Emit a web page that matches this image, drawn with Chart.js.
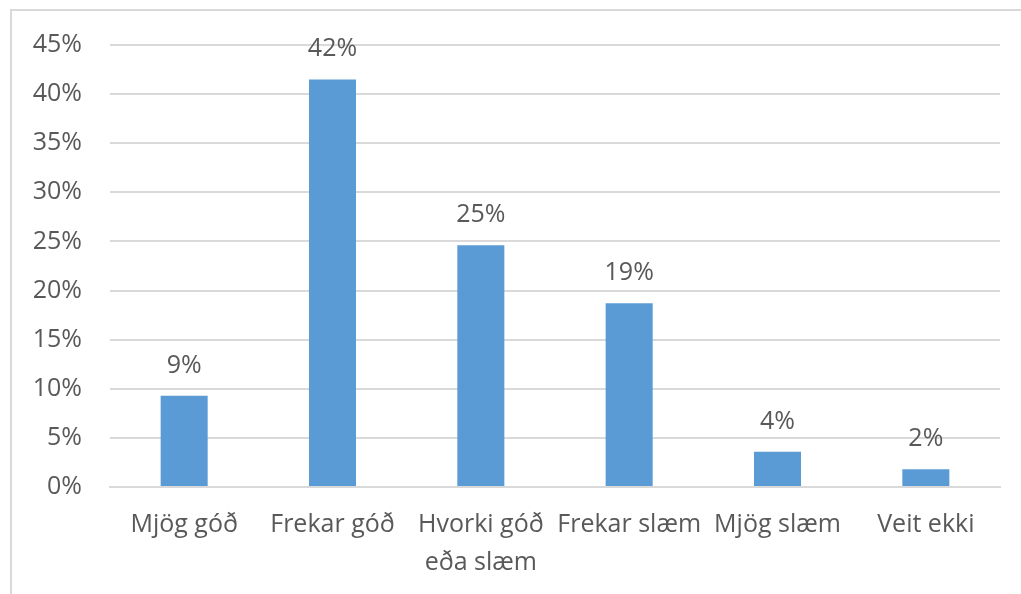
<!DOCTYPE html>
<html>
<head>
<meta charset="utf-8">
<script src="https://cdn.jsdelivr.net/npm/chart.js@4"></script>
<style>
  html, body { margin: 0; padding: 0; background: #fff; overflow: hidden; }
  #frame {
    position: absolute; left: 10px; top: 9px;
    width: 1011px; height: 585px;
    border-top: 2px solid #d9d9d9; border-left: 2px solid #d9d9d9;
  }
  #wrap { position: absolute; left: 0; top: 0; width: 1009px; height: 583px; }
</style>
</head>
<body>
<div id="frame"><div id="wrap"><canvas id="chart"></canvas></div></div>
<script>
// Categories and values (share of answers, %)
var categories = [
    'Mjög góð',
    'Frekar góð',
    ['Hvorki góð', 'eða slæm'],
    'Frekar slæm',
    'Mjög slæm',
    'Veit ekki'
];
var shares = [9.3, 41.5, 24.6, 18.7, 3.6, 1.8];
var yTicks = [0, 5, 10, 15, 20, 25, 30, 35, 40, 45];

var textColor = '#595959';
var fontFamily = "'Open Sans', sans-serif";

// Draw the value labels above the bars
var valueLabels = {
    id: 'valueLabels',
    afterDatasetsDraw: function(chart) {
        var ctx = chart.ctx;
        var meta = chart.getDatasetMeta(0);
        ctx.save();
        ctx.font = '25px ' + fontFamily;
        ctx.fillStyle = textColor;
        ctx.textAlign = 'center';
        ctx.textBaseline = 'alphabetic';
        meta.data.forEach(function(bar, i) {
            ctx.fillText(Math.round(shares[i]) + '%', bar.x, bar.y - 23);
        });
        ctx.restore();
    }
};

var ctx = document.getElementById('chart').getContext('2d');
var chart = new Chart(ctx, {
    type: 'bar',
    data: {
        labels: categories,
        datasets: [{
            data: shares,
            backgroundColor: '#5b9bd5',
            borderWidth: 0,
            barPercentage: 0.317,
            categoryPercentage: 1
        }]
    },
    options: {
        responsive: true,
        maintainAspectRatio: false,
        animation: false,
        layout: { padding: { left: 0, right: 21, top: 34, bottom: 0 } },
        plugins: {
            legend: { display: false },
            tooltip: { enabled: false }
        },
        scales: {
            x: {
                grid: { display: false, drawTicks: false },
                border: { display: true, color: '#d9d9d9', width: 2 },
                ticks: {
                    color: textColor,
                    font: { family: fontFamily, size: 25, lineHeight: 1.52 },
                    padding: 19,
                    maxRotation: 0,
                    autoSkip: false
                },
                afterFit: function(scale) {
                    scale.height = 107;
                    scale.paddingLeft = 0;
                    scale.paddingRight = 0;
                }
            },
            y: {
                min: 0,
                max: 45,
                afterBuildTicks: function(scale) {
                    scale.ticks = yTicks.map(function(v) { return { value: v }; });
                },
                grid: { color: '#d9d9d9', lineWidth: 2, drawTicks: false },
                border: { display: false },
                ticks: {
                    color: textColor,
                    font: { family: fontFamily, size: 25 },
                    padding: 28,
                    callback: function(v) { return v + '%'; }
                },
                afterFit: function(scale) {
                    scale.width = 98;
                    scale.paddingTop = 0;
                    scale.paddingBottom = 0;
                }
            }
        }
    },
    plugins: [valueLabels]
});
</script>
</body>
</html>
